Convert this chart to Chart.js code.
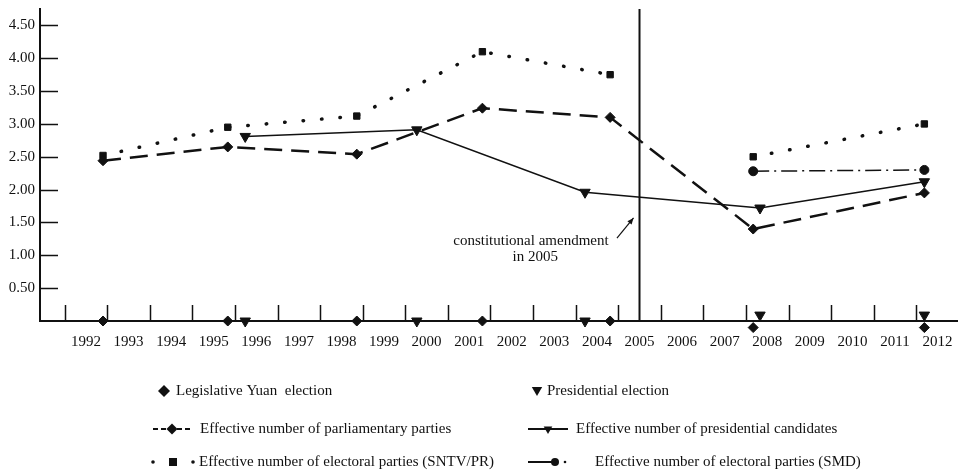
<!DOCTYPE html>
<html lang="en">
<head>
<meta charset="UTF-8">
<title>Effective number of parties and candidates, 1992-2012</title>
<script src="https://cdn.jsdelivr.net/npm/chart.js"></script>
<style>
  html, body { margin: 0; padding: 0; background: #fff; }
</style>
</head>
<body>
<canvas id="grafico" width="958" height="470"></canvas>

<script>
// axis labels
const years = [1992, 1993, 1994, 1995, 1996, 1997, 1998, 1999, 2000, 2001, 2002,
               2003, 2004, 2005, 2006, 2007, 2008, 2009, 2010, 2011, 2012];
const yTicks = [0.5, 1, 1.5, 2, 2.5, 3, 3.5, 4, 4.5];

// election dates as fractional years
const legislativeYears = [1992.4, 1995.33, 1998.36, 2001.31, 2004.31, 2007.67, 2011.69];
const presidentialYears = [1995.74, 1999.77, 2003.72, 2007.83, 2011.69];

// rows of election markers along the axis
const legislativeMarks = [0, 0, 0, 0, 0, -0.1, -0.1];
const presidentialMarks = [0, 0, 0, 0.09, 0.09];

// series
const parliamentaryParties = [2.44, 2.65, 2.54, 3.24, 3.10, 1.40, 1.95];
const presidentialCandidates = [2.81, 2.91, 1.96, 1.72, 2.12];
const electoralPartiesSNTV = [2.52, 2.95, 3.12, 4.10, 3.75, 2.50, 3.00];
const electoralPartiesSMD = [null, null, null, null, null, 2.28, 2.30];

const reformYear = 2005;
const ink = '#111';
const serif = '"Liberation Serif", "Times New Roman", serif';

function points(xs, ys) {
  return xs.map((x, i) => ({ x, y: ys[i] }));
}

// small shapes for the legend
function drawMark(ctx, kind, x, y, r) {
  ctx.beginPath();
  if (kind === 'diamond') {
    ctx.moveTo(x, y - r); ctx.lineTo(x + r, y); ctx.lineTo(x, y + r); ctx.lineTo(x - r, y);
  } else if (kind === 'triangle') {
    const w = r * Math.sqrt(3) / 2;
    ctx.moveTo(x - w, y - r / 2); ctx.lineTo(x + w, y - r / 2); ctx.lineTo(x, y + r);
  } else if (kind === 'square') {
    ctx.rect(x - r, y - r, 2 * r, 2 * r);
  } else {
    ctx.arc(x, y, r, 0, Math.PI * 2);
  }
  ctx.closePath();
  ctx.fill();
}

function drawSegment(ctx, x1, x2, y, dash, width) {
  ctx.save();
  ctx.setLineDash(dash);
  ctx.lineWidth = width;
  ctx.beginPath();
  ctx.moveTo(x1, y);
  ctx.lineTo(x2, y);
  ctx.stroke();
  ctx.restore();
}

const legendItems = [
  { text: 'Legislative Yuan  election', sample: 'diamond', sx: 164, tx: 176, y: 391 },
  { text: 'Presidential election', sample: 'triangle', sx: 537, tx: 547, y: 391 },
  { text: 'Effective number of parliamentary parties', sample: 'dashDiamond', sx: 153, tx: 200, y: 429 },
  { text: 'Effective number of presidential candidates', sample: 'lineTriangle', sx: 528, tx: 576, y: 429 },
  { text: 'Effective number of electoral parties (SNTV/PR)', sample: 'dotSquare', sx: 153, tx: 199, y: 462 },
  { text: 'Effective number of electoral parties (SMD)', sample: 'lineCircle', sx: 528, tx: 595, y: 462 }
];

// tick marks inside the axes, the 2005 divider, the note and the legend
const decorations = {
  id: 'decorations',
  beforeDatasetsDraw(chart) {
    const { ctx, scales: { x, y }, chartArea } = chart;
    ctx.save();
    ctx.strokeStyle = ink;
    ctx.lineWidth = 1.5;
    ctx.beginPath();
    for (let v = years[0] - 0.5; v < years[years.length - 1]; v++) {
      const px = Math.round(x.getPixelForValue(v)) + 0.5;
      ctx.moveTo(px, chartArea.bottom);
      ctx.lineTo(px, chartArea.bottom - 16);
    }
    yTicks.forEach(v => {
      const py = Math.round(y.getPixelForValue(v)) + 0.5;
      ctx.moveTo(chartArea.left, py);
      ctx.lineTo(chartArea.left + 18, py);
    });
    ctx.stroke();

    // constitutional amendment divider
    const rx = x.getPixelForValue(reformYear);
    ctx.lineWidth = 2;
    ctx.beginPath();
    ctx.moveTo(rx, chartArea.bottom);
    ctx.lineTo(rx, chartArea.top);
    ctx.stroke();

    // note and arrow
    ctx.fillStyle = ink;
    ctx.font = '15px ' + serif;
    ctx.textAlign = 'center';
    ctx.textBaseline = 'middle';
    ctx.fillText('constitutional amendment', x.getPixelForValue(2002.45), y.getPixelForValue(1.22));
    ctx.fillText('in 2005', x.getPixelForValue(2002.55), y.getPixelForValue(0.97));

    const ax1 = x.getPixelForValue(2004.47), ay1 = y.getPixelForValue(1.26);
    const ax2 = x.getPixelForValue(2004.86), ay2 = y.getPixelForValue(1.57);
    ctx.lineWidth = 1.2;
    ctx.beginPath();
    ctx.moveTo(ax1, ay1);
    ctx.lineTo(ax2, ay2);
    ctx.stroke();
    const ang = Math.atan2(ay2 - ay1, ax2 - ax1);
    ctx.beginPath();
    ctx.moveTo(ax2, ay2);
    ctx.lineTo(ax2 - 7 * Math.cos(ang - 0.4), ay2 - 7 * Math.sin(ang - 0.4));
    ctx.lineTo(ax2 - 7 * Math.cos(ang + 0.4), ay2 - 7 * Math.sin(ang + 0.4));
    ctx.closePath();
    ctx.fill();
    ctx.restore();
  },
  afterDraw(chart) {
    const { ctx } = chart;
    ctx.save();
    ctx.fillStyle = ink;
    ctx.strokeStyle = ink;
    ctx.font = '15px ' + serif;
    ctx.textAlign = 'left';
    ctx.textBaseline = 'middle';
    legendItems.forEach(item => {
      const { sx, y } = item;
      switch (item.sample) {
        case 'diamond':
          drawMark(ctx, 'diamond', sx, y, 6);
          break;
        case 'triangle':
          drawMark(ctx, 'triangle', sx, y - 1, 6);
          break;
        case 'dashDiamond':
          drawSegment(ctx, sx, sx + 39, y, [5, 3], 2);
          drawMark(ctx, 'diamond', sx + 19, y, 5.5);
          break;
        case 'lineTriangle':
          drawSegment(ctx, sx, sx + 40, y, [], 2);
          drawMark(ctx, 'triangle', sx + 20, y, 5);
          break;
        case 'dotSquare':
          drawMark(ctx, 'circle', sx, y, 1.8);
          drawMark(ctx, 'square', sx + 20, y, 4);
          drawMark(ctx, 'circle', sx + 40, y, 1.8);
          break;
        case 'lineCircle':
          drawSegment(ctx, sx, sx + 26, y, [], 2);
          drawMark(ctx, 'circle', sx + 27, y, 4);
          drawMark(ctx, 'circle', sx + 37, y, 1.3);
          break;
      }
      ctx.fillText(item.text, item.tx, y);
    });
    ctx.restore();
  }
};

Chart.defaults.font.family = serif;
Chart.defaults.font.size = 15;
Chart.defaults.color = ink;

// invisible tick marks only push the labels away from the axis
const hiddenTicks = length => ({
  display: true,
  drawOnChartArea: false,
  drawTicks: true,
  tickLength: length,
  tickColor: 'rgba(0,0,0,0)'
});

const ctx = document.getElementById('grafico').getContext('2d');
new Chart(ctx, {
  type: 'scatter',
  data: {
    datasets: [
      {
        label: 'Effective number of parliamentary parties',
        data: points(legislativeYears, parliamentaryParties),
        showLine: true,
        borderColor: ink,
        backgroundColor: ink,
        borderWidth: 2.5,
        borderDash: [18, 9],
        pointStyle: 'rectRot',
        pointRadius: 5,
        pointBorderWidth: 1
      },
      {
        label: 'Effective number of presidential candidates',
        data: points(presidentialYears, presidentialCandidates),
        showLine: true,
        borderColor: ink,
        backgroundColor: ink,
        borderWidth: 1.5,
        pointStyle: 'triangle',
        rotation: 180,
        pointRadius: 6,
        pointBorderWidth: 1
      },
      {
        label: 'Effective number of electoral parties (SNTV/PR)',
        data: points(legislativeYears, electoralPartiesSNTV),
        showLine: true,
        borderColor: ink,
        backgroundColor: ink,
        borderWidth: 3.5,
        borderDash: [0.5, 18],
        borderCapStyle: 'round',
        pointStyle: 'rect',
        pointRadius: 4.5,
        pointBorderWidth: 1,
        segment: {
          // no line across the electoral reform
          borderColor: c => (c.p0.parsed.x < reformYear && c.p1.parsed.x > reformYear) ? 'rgba(0,0,0,0)' : undefined
        }
      },
      {
        label: 'Effective number of electoral parties (SMD)',
        data: points(legislativeYears, electoralPartiesSMD),
        showLine: true,
        borderColor: ink,
        backgroundColor: ink,
        borderWidth: 1.5,
        borderDash: [16, 5, 2, 5],
        pointStyle: 'circle',
        pointRadius: 4.5,
        pointBorderWidth: 1
      },
      {
        label: 'Legislative Yuan election',
        data: points(legislativeYears, legislativeMarks),
        showLine: false,
        clip: false,
        borderColor: ink,
        backgroundColor: ink,
        pointStyle: 'rectRot',
        pointRadius: 5,
        pointHoverRadius: 10,
        pointBorderWidth: 1
      },
      {
        label: 'Presidential election',
        data: points(presidentialYears, presidentialMarks),
        showLine: false,
        clip: false,
        borderColor: ink,
        backgroundColor: ink,
        pointStyle: 'triangle',
        rotation: 180,
        pointRadius: 6,
        pointHoverRadius: 10,
        pointBorderWidth: 1
      }
    ]
  },
  options: {
    responsive: false,
    animation: false,
    events: [],
    layout: { autoPadding: false, padding: { top: 9, right: 0, bottom: 0, left: 0 } },
    plugins: {
      legend: { display: false },
      tooltip: { enabled: false }
    },
    scales: {
      x: {
        type: 'linear',
        min: 1990.92,
        max: 2012.48,
        grid: hiddenTicks(12),
        border: { display: true, color: ink, width: 2 },
        afterBuildTicks: scale => { scale.ticks = years.map(v => ({ value: v })); },
        afterFit: scale => {
          scale.height = 149;
          scale.paddingLeft = 0;
          scale.paddingRight = 0;
        },
        ticks: {
          autoSkip: false,
          maxRotation: 0,
          padding: 0,
          callback: v => String(v)
        }
      },
      y: {
        min: 0,
        max: 4.75,
        grid: hiddenTicks(5),
        border: { display: true, color: ink, width: 2 },
        afterBuildTicks: scale => { scale.ticks = yTicks.map(v => ({ value: v })); },
        afterFit: scale => {
          scale.width = 40;
          scale.paddingTop = 0;
          scale.paddingBottom = 0;
        },
        ticks: {
          padding: 0,
          callback: v => v.toFixed(2)
        }
      }
    }
  },
  plugins: [decorations]
});
</script>
</body>
</html>
